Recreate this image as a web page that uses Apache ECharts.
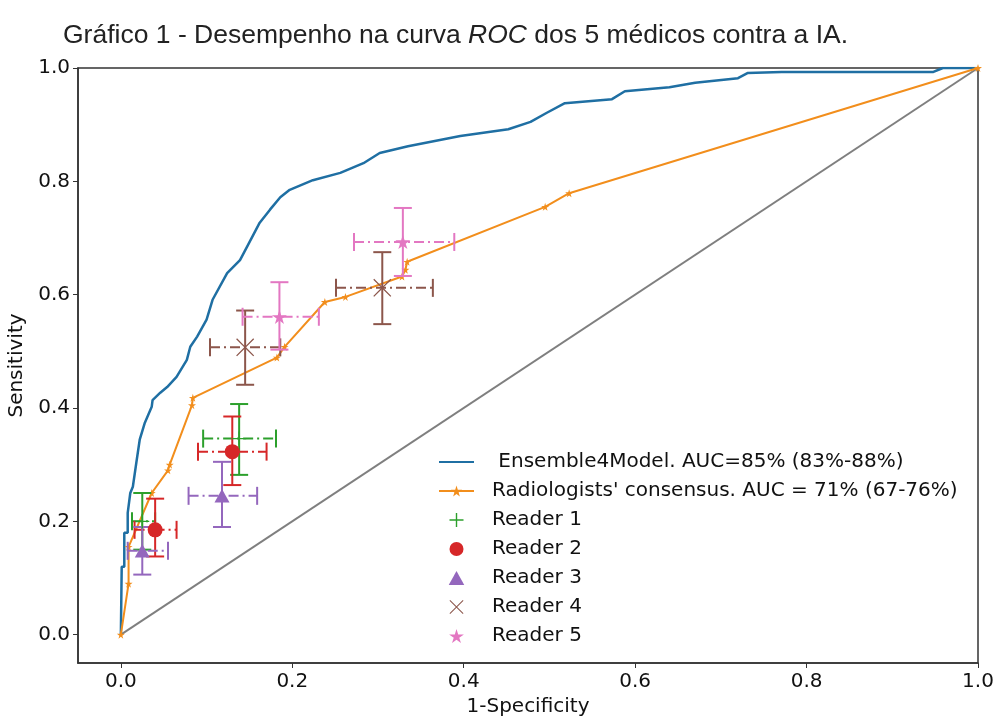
<!DOCTYPE html>
<html>
<head>
<meta charset="utf-8">
<script src="https://cdn.jsdelivr.net/npm/echarts@6/dist/echarts.min.js"></script>
<style>
  html, body { margin: 0; padding: 0; background: #fff; }
  #main { width: 997px; height: 717px; }
</style>
</head>
<body>
<div id="main"></div>
<script>
// curva ROC do modelo (1-especificidade, sensibilidade)
var modelX = [0, 0.001, 0.004, 0.004, 0.008, 0.008, 0.011, 0.014, 0.018, 0.022, 0.028, 0.036, 0.037, 0.046, 0.054,
  0.065, 0.077, 0.081, 0.089, 0.100, 0.107, 0.124, 0.139, 0.147, 0.162, 0.174, 0.186, 0.197, 0.224, 0.256,
  0.283, 0.302, 0.335, 0.396, 0.452, 0.478, 0.497, 0.518, 0.573, 0.588, 0.640, 0.670, 0.720, 0.731, 0.771,
  0.948, 0.959, 1];
var modelY = [0, 0.12, 0.12, 0.18, 0.18, 0.215, 0.25, 0.261, 0.303, 0.344, 0.374, 0.402, 0.414, 0.427, 0.437,
  0.455, 0.485, 0.508, 0.526, 0.556, 0.591, 0.638, 0.661, 0.684, 0.727, 0.750, 0.772, 0.785, 0.802, 0.815,
  0.832, 0.850, 0.862, 0.880, 0.892, 0.905, 0.921, 0.938, 0.945, 0.959, 0.966, 0.974, 0.982, 0.991, 0.993,
  0.993, 1.0, 1];

// consenso dos radiologistas
var consX = [0, 0.009, 0.009, 0.036, 0.055, 0.057, 0.083, 0.084, 0.182, 0.191, 0.238, 0.262, 0.328, 0.332, 0.334, 0.495, 0.523, 1];
var consY = [0, 0.09, 0.155, 0.25, 0.29, 0.30, 0.405, 0.418, 0.489, 0.508, 0.587, 0.596, 0.632, 0.644, 0.658, 0.755, 0.779, 1];

// leitores: [x, y, xMin, xMax, yMin, yMax]
var reader1 = [[0.025, 0.200, 0.013, 0.040, 0.150, 0.250], [0.138, 0.346, 0.096, 0.181, 0.282, 0.407]];
var reader2 = [[0.040, 0.185, 0.016, 0.065, 0.138, 0.240], [0.130, 0.323, 0.090, 0.170, 0.264, 0.385]];
var reader3 = [[0.025, 0.148, 0.008, 0.055, 0.106, 0.190], [0.118, 0.245, 0.079, 0.159, 0.190, 0.305]];
var reader4 = [[0.145, 0.507, 0.104, 0.186, 0.441, 0.572], [0.305, 0.612, 0.251, 0.364, 0.548, 0.675]];
var reader5 = [[0.185, 0.561, 0.142, 0.231, 0.503, 0.622], [0.329, 0.693, 0.272, 0.389, 0.633, 0.753]];

var tickVals = [0, 0.2, 0.4, 0.6, 0.8, 1.0];

var STAR = 'path://M50,0 L61,35 L98,35 L68,57 L79,91 L50,70 L21,91 L32,57 L2,35 L39,35 Z';
var PLUS = 'path://M9,0H11V9H20V11H11V20H9V11H0V9H9Z';
var CROSS = 'path://M1,0L10,9L19,0L20,1L11,10L20,19L19,20L10,11L1,20L0,19L9,10L0,1Z';
var TRI = 'path://M10,0L20,18L0,18Z';

var chart = echarts.init(document.getElementById('main'));

function pairs(xs, ys) {
  var out = [];
  for (var i = 0; i < xs.length; i++) out.push([xs[i], ys[i]]);
  return out;
}

function errRender(color) {
  return function (params, api) {
    var l = api.coord([api.value(2), api.value(1)]);
    var r = api.coord([api.value(3), api.value(1)]);
    var b = api.coord([api.value(0), api.value(4)]);
    var t = api.coord([api.value(0), api.value(5)]);
    var cap = 9;
    var hs = { stroke: color, lineWidth: 2, lineDash: [10, 4, 2, 4] };
    var vs = { stroke: color, lineWidth: 2 };
    return {
      type: 'group',
      children: [
        { type: 'line', shape: { x1: l[0], y1: l[1], x2: r[0], y2: r[1] }, style: hs },
        { type: 'line', shape: { x1: l[0], y1: l[1] - cap, x2: l[0], y2: l[1] + cap }, style: vs },
        { type: 'line', shape: { x1: r[0], y1: r[1] - cap, x2: r[0], y2: r[1] + cap }, style: vs },
        { type: 'line', shape: { x1: b[0], y1: b[1], x2: t[0], y2: t[1] }, style: vs },
        { type: 'line', shape: { x1: b[0] - cap, y1: b[1], x2: b[0] + cap, y2: b[1] }, style: vs },
        { type: 'line', shape: { x1: t[0] - cap, y1: t[1], x2: t[0] + cap, y2: t[1] }, style: vs }
      ]
    };
  };
}

var readers = [
  { name: 'Reader 1', data: reader1, color: '#2ca02c', symbol: PLUS, size: 14 },
  { name: 'Reader 2', data: reader2, color: '#d62728', symbol: 'circle', size: 15 },
  { name: 'Reader 3', data: reader3, color: '#9467bd', symbol: TRI, size: 15 },
  { name: 'Reader 4', data: reader4, color: '#8c564b', symbol: CROSS, size: 18 },
  { name: 'Reader 5', data: reader5, color: '#e377c2', symbol: STAR, size: 15 }
];

var modelName = ' Ensemble4Model. AUC=85% (83%-88%)';
var consName = "Radiologists' consensus. AUC = 71% (67-76%)";

var series = [
  {
    name: 'diag', type: 'line', data: [[0, 0], [1, 1]], symbol: 'none', silent: true,
    lineStyle: { color: '#7f7f7f', width: 2 }, z: 1
  },
  {
    name: modelName, type: 'line', data: pairs(modelX, modelY),
    symbol: 'none', lineStyle: { color: '#1f6fa3', width: 2.5 }, itemStyle: { color: '#1f6fa3' }, z: 3
  },
  {
    name: consName, type: 'line', data: pairs(consX, consY),
    symbol: STAR, symbolSize: 8, showAllSymbol: true,
    lineStyle: { color: '#f28e1c', width: 2 }, itemStyle: { color: '#f28e1c' }, z: 4
  }
];

readers.forEach(function (rd) {
  series.push({
    name: rd.name, type: 'scatter', symbol: rd.symbol, symbolSize: rd.size, symbolKeepAspect: true,
    data: rd.data.map(function (d) { return [d[0], d[1]]; }),
    itemStyle: { color: rd.color, opacity: 1 }, z: 6
  });
  series.push({
    name: rd.name, type: 'custom', renderItem: errRender(rd.color),
    data: rd.data, encode: { x: [0, 2, 3], y: [1, 4, 5] }, z: 5, silent: true
  });
});

var tickFont = { fontFamily: 'DejaVu Sans', fontSize: 20, color: '#111' };

var option = {
  backgroundColor: '#fff',
  animation: false,
  title: {
    text: 'Gráfico 1 - Desempenho na curva {i|ROC} dos 5 médicos contra a IA.',
    left: 58, top: 17,
    textStyle: {
      fontFamily: 'Liberation Sans', fontSize: 26.5, fontWeight: 'normal', color: '#222',
      rich: { i: { fontFamily: 'Liberation Sans', fontSize: 26.5, fontStyle: 'italic', color: '#222' } }
    }
  },
  grid: {
    left: 78, right: 19, top: 68, bottom: 54, show: true, borderColor: '#333', borderWidth: 1.5,
    containLabel: false, outerBoundsMode: 'none'
  },
  legend: {
    orient: 'vertical', left: 433, top: 447,
    itemWidth: 35, itemHeight: 14, itemGap: 9,
    symbolKeepAspect: true,
    textStyle: { fontFamily: 'DejaVu Sans', fontSize: 20, lineHeight: 20, color: '#111', padding: [0, 0, 0, 13] },
    data: [
      { name: modelName, itemStyle: { opacity: 0 } },
      consName,
      'Reader 1', 'Reader 2', 'Reader 3', 'Reader 4', 'Reader 5'
    ]
  },
  xAxis: {
    type: 'value', min: -0.05, max: 1.0,
    name: '1-Specificity', nameLocation: 'middle', nameGap: 33,
    nameTextStyle: tickFont,
    splitLine: { show: false },
    axisLine: { show: true, onZero: false, lineStyle: { color: '#333', width: 1.5 } },
    axisTick: { show: true, length: 5, customValues: tickVals, lineStyle: { color: '#333' } },
    axisLabel: {
      customValues: tickVals, fontFamily: 'DejaVu Sans', fontSize: 20, color: '#111', margin: 9,
      formatter: function (v) { return v.toFixed(1); }
    }
  },
  yAxis: {
    type: 'value', min: -0.05, max: 1.0,
    name: 'Sensitivity', nameLocation: 'middle', nameGap: 40,
    nameTextStyle: tickFont,
    splitLine: { show: false },
    axisLine: { show: true, onZero: false, lineStyle: { color: '#333', width: 1.5 } },
    axisTick: { show: true, length: 5, customValues: tickVals, lineStyle: { color: '#333' } },
    axisLabel: {
      customValues: tickVals, fontFamily: 'DejaVu Sans', fontSize: 20, color: '#111', margin: 8,
      formatter: function (v) { return v.toFixed(1); }
    }
  },
  series: series
};

chart.setOption(option);
</script>
</body>
</html>
